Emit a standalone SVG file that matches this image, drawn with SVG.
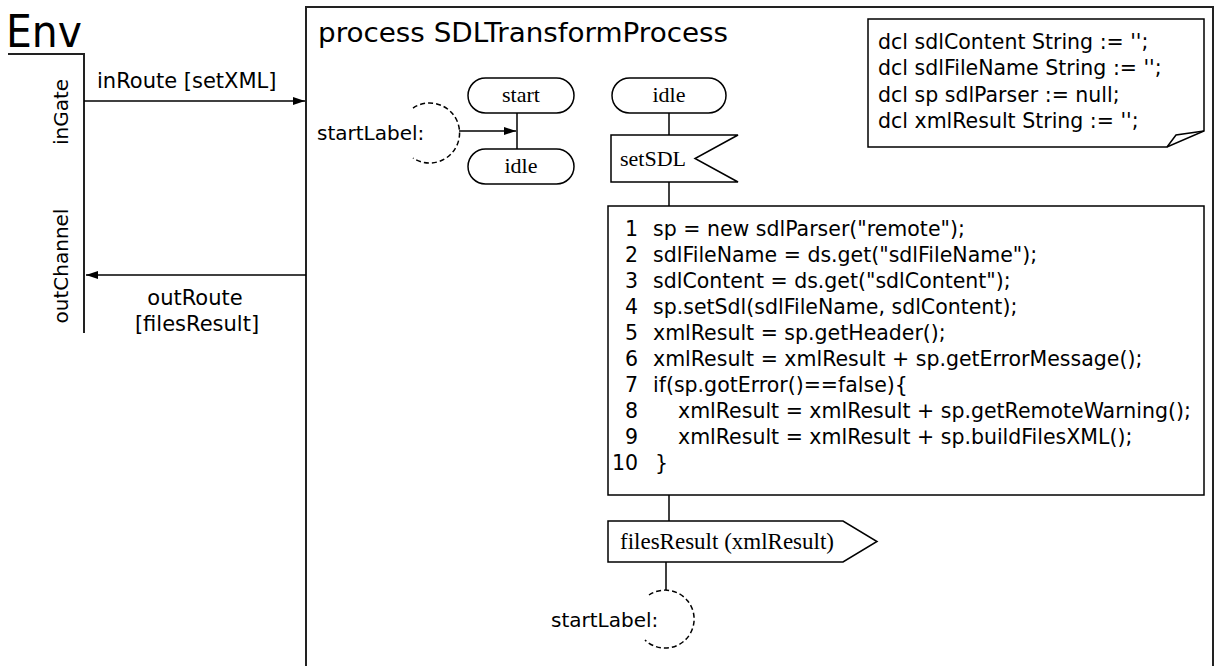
<svg xmlns="http://www.w3.org/2000/svg" width="1215" height="666" viewBox="0 0 1215 666">
  <style>
    .ln { fill: none; stroke: #000; stroke-width: 1.5; }
    .frame { fill: none; stroke: #222; stroke-width: 2; }
    .box { fill: #fff; stroke: #000; stroke-width: 1.5; }
    .dash { fill: none; stroke: #000; stroke-width: 1.5; stroke-dasharray: 5 3; }
    .sans { font-family: "DejaVu Sans", Verdana, sans-serif; fill: #000; }
    .serif { font-family: "Liberation Serif", "Times New Roman", serif; fill: #000; }
    .code { font-family: "DejaVu Sans", Verdana, sans-serif; font-size: 20.5px; fill: #000; }
    .num { text-anchor: end; }
  </style>
  <defs>
    <marker id="arrow" viewBox="0 0 12 8" refX="12" refY="4" markerWidth="12" markerHeight="8" markerUnits="userSpaceOnUse" orient="auto">
      <path d="M0,0 L12,4 L0,8 Z" fill="#000"/>
    </marker>
  </defs>

  <!-- environment frame -->
  <g id="env">
    <text class="sans" x="6" y="47" font-size="44" textLength="76" lengthAdjust="spacingAndGlyphs">Env</text>
    <path class="frame" d="M8,54 H84 V333"/>
    <text class="sans" font-size="20" text-anchor="middle" transform="translate(68,112) rotate(-90)">inGate</text>
    <text class="sans" font-size="20" text-anchor="middle" transform="translate(68,266) rotate(-90)">outChannel</text>
  </g>

  <!-- process frame -->
  <g id="process">
    <path class="frame" d="M306,666 V7 H1213 V666"/>
    <text class="sans" x="318" y="42" font-size="26" textLength="410" lengthAdjust="spacingAndGlyphs">process SDLTransformProcess</text>
  </g>

  <!-- declarations text symbol -->
  <g id="declarations">
    <path class="box" d="M868,19 H1204 V131 L1167,147 H868 Z"/>
    <path class="ln" d="M1167,147 L1176,135 L1204,131"/>
    <text class="code" x="878" y="49" font-size="21">dcl sdlContent String := '';</text>
    <text class="code" x="878" y="75" font-size="21">dcl sdlFileName String := '';</text>
    <text class="code" x="878" y="102" font-size="21">dcl sp sdlParser := null;</text>
    <text class="code" x="878" y="128" font-size="21">dcl xmlResult String := '';</text>
  </g>

  <!-- connectors -->
  <g id="connectors">
    <line class="ln" x1="84" y1="101" x2="305" y2="101" marker-end="url(#arrow)"/>
    <text class="sans" x="97" y="88" font-size="21">inRoute [setXML]</text>
    <line class="ln" x1="306" y1="275" x2="86" y2="275" marker-end="url(#arrow)"/>
    <text class="sans" x="195" y="305" font-size="21" text-anchor="middle">outRoute</text>
    <text class="sans" x="197" y="331" font-size="21" text-anchor="middle">[filesResult]</text>
    <line class="ln" x1="459" y1="131" x2="516" y2="131" marker-end="url(#arrow)"/>
    <line class="ln" x1="517" y1="113" x2="517" y2="149"/>
    <line class="ln" x1="669" y1="113" x2="669" y2="135"/>
    <line class="ln" x1="669" y1="182" x2="669" y2="206"/>
    <line class="ln" x1="669" y1="495" x2="669" y2="521"/>
    <line class="ln" x1="666" y1="562" x2="666" y2="590"/>
  </g>

  <!-- connector join label at start -->
  <g id="startLabelIn">
    <path class="dash" d="M413,108 A30,30 0 1,1 413,158"/>
    <text class="sans" x="317" y="140" font-size="20">startLabel:</text>
  </g>

  <g id="start">
    <rect class="box" x="468" y="78" width="106" height="35" rx="17.5"/>
    <text class="serif" x="521" y="102" font-size="22" text-anchor="middle">start</text>
  </g>

  <g id="idleStart">
    <rect class="box" x="468" y="149" width="106" height="35" rx="17.5"/>
    <text class="serif" x="521" y="173" font-size="22" text-anchor="middle">idle</text>
  </g>

  <g id="idle">
    <rect class="box" x="612" y="78" width="114" height="35" rx="17.5"/>
    <text class="serif" x="669" y="102" font-size="22" text-anchor="middle">idle</text>
  </g>

  <g id="setSDL">
    <path class="box" d="M611,135 H738 L695,158.5 L738,182 H611 Z"/>
    <text class="serif" x="620" y="166" font-size="22">setSDL</text>
  </g>

  <!-- task with the transition code -->
  <g id="task">
    <rect class="box" x="608" y="206" width="596" height="289"/>
    <text class="code num" x="638" y="236">1</text>
    <text class="code" x="653" y="236">sp = new sdlParser("remote");</text>
    <text class="code num" x="638" y="262">2</text>
    <text class="code" x="653" y="262">sdlFileName = ds.get("sdlFileName");</text>
    <text class="code num" x="638" y="288">3</text>
    <text class="code" x="653" y="288">sdlContent = ds.get("sdlContent");</text>
    <text class="code num" x="638" y="314">4</text>
    <text class="code" x="653" y="314">sp.setSdl(sdlFileName, sdlContent);</text>
    <text class="code num" x="638" y="340">5</text>
    <text class="code" x="653" y="340">xmlResult = sp.getHeader();</text>
    <text class="code num" x="638" y="366">6</text>
    <text class="code" x="653" y="366">xmlResult = xmlResult + sp.getErrorMessage();</text>
    <text class="code num" x="638" y="392">7</text>
    <text class="code" x="653" y="392">if(sp.gotError()==false){</text>
    <text class="code num" x="638" y="418">8</text>
    <text class="code" x="678" y="418">xmlResult = xmlResult + sp.getRemoteWarning();</text>
    <text class="code num" x="638" y="444">9</text>
    <text class="code" x="678" y="444">xmlResult = xmlResult + sp.buildFilesXML();</text>
    <text class="code" x="612" y="470">10</text>
    <text class="code" x="655" y="470">}</text>
  </g>

  <g id="filesResult">
    <path class="box" d="M608,521 H843 L877,541.5 L843,562 H608 Z"/>
    <text class="serif" x="620" y="549" font-size="23">filesResult (xmlResult)</text>
  </g>

  <!-- join back to startLabel -->
  <g id="startLabelOut">
    <path class="dash" d="M649,595 A29,29 0 1,1 645,640"/>
    <text class="sans" x="551" y="627" font-size="20">startLabel:</text>
  </g>
</svg>
